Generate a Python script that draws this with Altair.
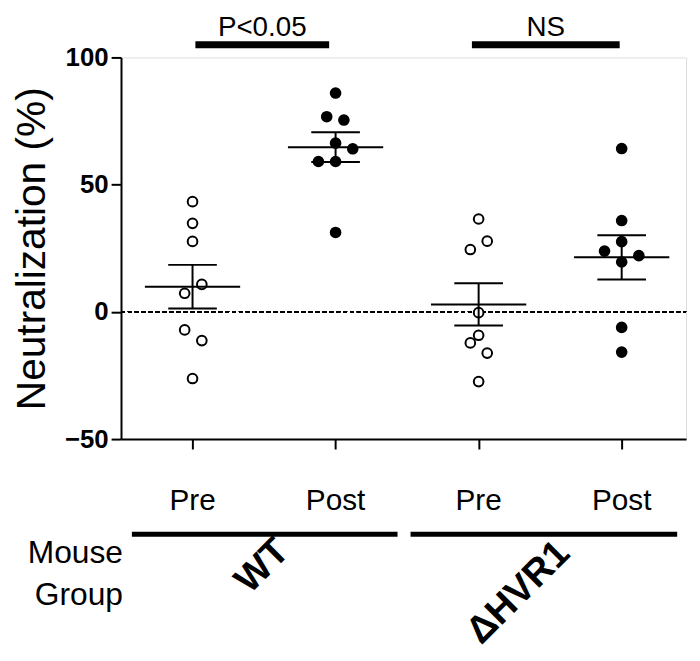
import altair as alt
import pandas as pd

# ---------------- data ----------------
POSITIONS = [1, 2, 3, 4]
CONDITIONS = ["Pre", "Post", "Pre", "Post"]
WT_PRE = [43.3, 34.8, 27.7, 10.8, 7.3, -7.1, -11.3, -26.2]
WT_POST = [86.0, 76.7, 75.4, 66.3, 64.1, 59.1, 59.1, 31.2]
HVR_PRE = [36.5, 27.8, 24.5, -0.3, -9.2, -12.2, -16.2, -27.4]
HVR_POST = [64.2, 35.9, 27.6, 23.9, 22.1, 19.6, -6.1, -15.8]
Y_TICKS = [-50, 0, 50, 100]
SIG_LABELS = ["P<0.05", "NS"]
GROUP_NAMES = ["WT", "ΔHVR1"]
ROW_TITLE = ["Mouse", "Group"]
Y_TITLE = "Neutralization (%)"

# ---------------- layout (horizontal scatter offsets, in category units) ----------------
JITTER = [
    [0, 0, 0, 0.065, -0.055, -0.055, 0.065, 0],
    [0, -0.062, 0.058, 0, 0.12, -0.12, 0, 0],
    [0, 0.06, -0.058, 0, 0, -0.058, 0.06, 0],
    [0, 0, 0, -0.12, 0.12, 0, 0, 0],
]
SERIES = [WT_PRE, WT_POST, HVR_PRE, HVR_POST]

rows = []
for pos, cond, vals, jit in zip(POSITIONS, CONDITIONS, SERIES, JITTER):
    for v, j in zip(vals, jit):
        rows.append({"pos": pos, "xj": pos + j, "value": v, "cond": cond})
points_df = pd.DataFrame(rows)

labels_df = pd.DataFrame({"pos": POSITIONS, "cond": CONDITIONS})
sig_df = pd.DataFrame({"label": SIG_LABELS, "x1": [1.02, 2.953], "x2": [1.955, 3.986]})
sig_df["xc"] = (sig_df["x1"] + sig_df["x2"]) / 2
grp_df = pd.DataFrame({"name": GROUP_NAMES, "x1": [0.576, 2.524], "x2": [2.433, 4.388],
                       "lx": [1.49, 3.28], "ly": [-100.0, -110.4]})
row_df = pd.DataFrame({"t": ROW_TITLE, "ly": [-98.7, -115.1]})

FONT = "Liberation Sans"
W, H = 570, 385
xscale = alt.Scale(domain=[0.5, 4.45], nice=False, zero=False)
yscale = alt.Scale(domain=[-50, 100], nice=False, zero=False)

xaxis = alt.Axis(values=POSITIONS, labels=False, ticks=True, tickSize=10, tickWidth=2,
                 tickColor="black", domainColor="black", domainWidth=2, grid=False, title=None)
yaxis = alt.Axis(values=Y_TICKS, labelFont=FONT, labelFontSize=26, labelFontWeight="bold",
                 labelColor="black", labelPadding=3, tickSize=10, tickWidth=2, tickColor="black",
                 domainColor="black", domainWidth=2, grid=False,
                 title=Y_TITLE, titleFont=FONT, titleFontSize=41, titleFontWeight="normal",
                 titleColor="black", titleAngle=270, titleX=-77, titleY=H / 2,
                 titleAlign="center", titleBaseline="alphabetic")

base = alt.Chart(points_df)

zero = base.mark_rule(strokeDash=[4, 3], strokeWidth=1.5, color="black").encode(
    y=alt.datum(0), x=alt.value(0), x2=alt.value(W)
)

pts = base.mark_point(shape="circle", size=95, strokeWidth=2, stroke="black", opacity=1,
                      filled=False).encode(
    x=alt.X("xj:Q", scale=xscale, axis=xaxis),
    y=alt.Y("value:Q", scale=yscale, axis=yaxis),
    fill=alt.Fill("cond:N", scale=alt.Scale(domain=["Pre", "Post"], range=["white", "black"]),
                  legend=None),
)

stats = base.transform_aggregate(
    m="mean(value)", se="stderr(value)", groupby=["pos"]
).transform_calculate(
    lo="datum.m - datum.se", hi="datum.m + datum.se",
    mx1="datum.pos - 0.333", mx2="datum.pos + 0.333",
    cx1="datum.pos - 0.17", cx2="datum.pos + 0.17",
)
mean_line = stats.mark_rule(strokeWidth=2, color="black").encode(
    x=alt.X("mx1:Q", scale=xscale), x2="mx2:Q", y=alt.Y("m:Q", scale=yscale))
vline = stats.mark_rule(strokeWidth=2, color="black").encode(
    x=alt.X("pos:Q", scale=xscale), y=alt.Y("lo:Q", scale=yscale), y2="hi:Q")
cap_lo = stats.mark_rule(strokeWidth=2, color="black").encode(
    x=alt.X("cx1:Q", scale=xscale), x2="cx2:Q", y=alt.Y("lo:Q", scale=yscale))
cap_hi = stats.mark_rule(strokeWidth=2, color="black").encode(
    x=alt.X("cx1:Q", scale=xscale), x2="cx2:Q", y=alt.Y("hi:Q", scale=yscale))

cond_text = alt.Chart(labels_df).mark_text(font=FONT, fontSize=30, baseline="alphabetic",
                                           align="center", color="black").encode(
    x=alt.X("pos:Q", scale=xscale), y=alt.datum(-77.7), text="cond:N")

sig_bar = alt.Chart(sig_df).mark_rule(strokeWidth=7, color="black").encode(
    x=alt.X("x1:Q", scale=xscale), x2="x2:Q", y=alt.datum(105.0))
sig_text = alt.Chart(sig_df).mark_text(font=FONT, fontSize=28, baseline="alphabetic",
                                       align="center", color="black").encode(
    x=alt.X("xc:Q", scale=xscale), y=alt.datum(108.5), text="label:N")

grp_bar = alt.Chart(grp_df).mark_rule(strokeWidth=5, color="black").encode(
    x=alt.X("x1:Q", scale=xscale), x2="x2:Q", y=alt.datum(-87.4))
grp_text = alt.Chart(grp_df).mark_text(font=FONT, fontSize=38, fontWeight="bold", angle=315,
                                       align="center", baseline="middle", color="black").encode(
    x=alt.X("lx:Q", scale=xscale), y=alt.Y("ly:Q", scale=yscale), text="name:N")

row_text = alt.Chart(row_df).mark_text(font=FONT, fontSize=32, align="right",
                                       baseline="alphabetic", color="black").encode(
    x=alt.datum(0.514), y=alt.Y("ly:Q", scale=yscale), text="t:N")

chart = alt.layer(
    zero, pts, mean_line, vline, cap_lo, cap_hi,
    cond_text, sig_bar, sig_text, grp_bar, grp_text, row_text
).properties(
    width=W, height=H,
    autosize=alt.AutoSizeParams(type="none"),
    padding={"left": 114, "top": 47, "right": 6, "bottom": 221},
).configure_view(stroke=None).configure(background="white")

chart.save("out.html", embed_options={"renderer": "svg", "actions": False})
